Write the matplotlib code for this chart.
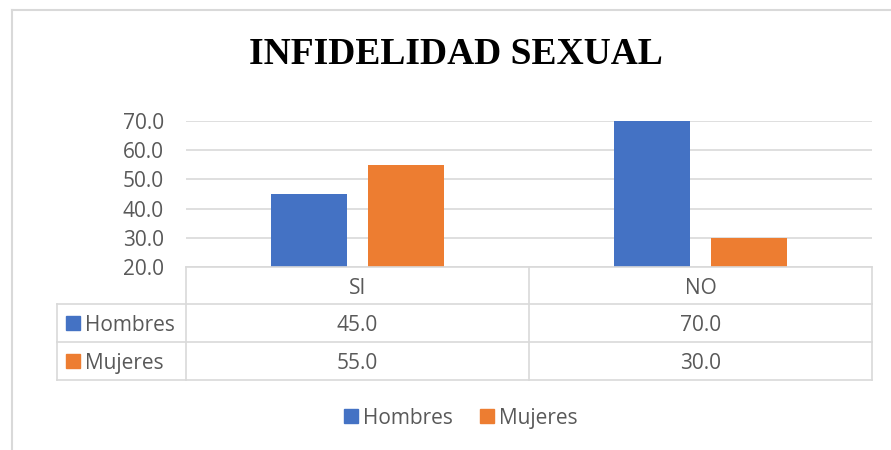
import numpy as np
import matplotlib.pyplot as plt
from matplotlib.lines import Line2D
from matplotlib.patches import Rectangle

categories = ['SI', 'NO']
hombres = [45.0, 70.0]
mujeres = [55.0, 30.0]
series = ['Hombres', 'Mujeres']
colors = ['#4472C4', '#ED7D31']
yticks = [20, 30, 40, 50, 60, 70]

W, H = 891, 450
grey = '#595959'
line_c = '#d9d9d9'
fs = 15
plt.rcParams['font.family'] = ['Open Sans', 'DejaVu Sans']

fig = plt.figure(figsize=(W / 100, H / 100), dpi=100)


def fx(x):
    return x / W


def fy(y):
    return 1 - y / H


def hline(x0, x1, y, lw=1.2):
    fig.add_artist(Line2D([fx(x0), fx(x1)], [fy(y), fy(y)], color=line_c, lw=lw))


def vline(x, y0, y1, lw=1.2):
    fig.add_artist(Line2D([fx(x), fx(x)], [fy(y0), fy(y1)], color=line_c, lw=lw))


# outer chart border (only left and top visible)
hline(12, W, 10, lw=1.5)
vline(12, 10, H, lw=1.5)

# plot area
left, right, top, bottom = 186, 872, 121, 267
ax = fig.add_axes([fx(left), fy(bottom), fx(right - left), (bottom - top) / H])
x = np.arange(len(categories))
w = 0.222
off = 0.1425
ax.bar(x - off, hombres, w, color=colors[0], zorder=3)
ax.bar(x + off, mujeres, w, color=colors[1], zorder=3)
ax.set_xlim(-0.5, len(categories) - 0.5)
ax.set_ylim(20, 70)
ax.set_yticks(yticks)
ax.set_yticklabels([f'{v:.1f}' for v in yticks], fontsize=fs, color=grey)
ax.set_xticks([])
ax.tick_params(axis='y', length=0, pad=16)
ax.grid(axis='y', color=line_c, lw=1.2, zorder=0)
for s in ax.spines.values():
    s.set_visible(False)

fig.text(fx(456), fy(55), 'INFIDELIDAD SEXUAL', ha='center', va='center',
         fontsize=27, fontweight='bold', family='Liberation Serif', color='black')

# data table
rows_y = [267, 304, 342, 380]
tab_left = 57
col_x = [left, (left + right) / 2, right]
hline(left, right, rows_y[0])
for yy in rows_y[1:]:
    hline(tab_left, right, yy)
vline(tab_left, rows_y[1], rows_y[3])
for cx in col_x:
    vline(cx, rows_y[0], rows_y[3])

for i, cat in enumerate(categories):
    cx = (col_x[i] + col_x[i + 1]) / 2
    fig.text(fx(cx), fy((rows_y[0] + rows_y[1]) / 2), cat, ha='center',
             va='center_baseline', fontsize=fs, color=grey)
    for r, vals in enumerate([hombres, mujeres]):
        fig.text(fx(cx), fy((rows_y[r + 1] + rows_y[r + 2]) / 2), f'{vals[i]:.1f}',
                 ha='center', va='center_baseline', fontsize=fs, color=grey)

for r, name in enumerate(series):
    yc = (rows_y[r + 1] + rows_y[r + 2]) / 2
    fig.add_artist(Rectangle((fx(66), fy(yc + 7)), fx(14), 14 / H, color=colors[r]))
    fig.text(fx(85), fy(yc), name, ha='left', va='center_baseline', fontsize=fs, color=grey)

# legend
for sx, name, c in [(344, series[0], colors[0]), (480, series[1], colors[1])]:
    fig.add_artist(Rectangle((fx(sx), fy(423)), fx(14), 14 / H, color=c))
    fig.text(fx(sx + 19), fy(416), name, ha='left', va='center_baseline',
             fontsize=fs, color=grey)

fig.savefig('out.png', dpi=100)
